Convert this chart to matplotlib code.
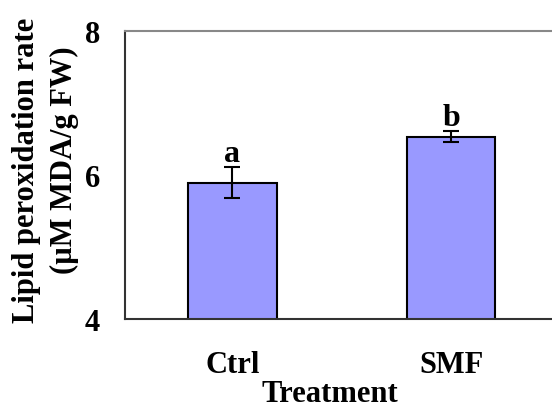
import matplotlib
matplotlib.use("Agg")
import matplotlib.pyplot as plt

categories = ["Ctrl", "SMF"]
values = [5.89, 6.53]
errors = [0.215, 0.075]
letters = ["a", "b"]
yticks = [4, 6, 8]

plt.rcParams['font.family'] = ['Liberation Serif', 'DejaVu Serif']
plt.rcParams['font.weight'] = 'bold'

fig = plt.figure(figsize=(5.52, 4.10), dpi=100)
ax = fig.add_axes([0.2264, 0.2195, 0.7736, 0.7032])

x = list(range(len(categories)))
ax.bar(x, values, width=0.404, color='#9999FF', edgecolor='black', linewidth=1.5, zorder=2)
ax.errorbar(x, values, yerr=errors, fmt='none', ecolor='black', elinewidth=1.5,
            capsize=6, capthick=1.5, zorder=3)
for xi, v, e, l in zip(x, values, errors, letters):
    ax.annotate(l, (xi, v + e), xytext=(0, 4.3), textcoords='offset points',
                ha='center', va='baseline', fontsize=23, fontweight='bold')

ax.set_xlim(-0.492, 1.462)
ax.set_ylim(4, 8)
ax.set_yticks(yticks)
ax.set_yticklabels([str(t) for t in yticks], fontsize=22, fontweight='bold')
ax.set_xticks(x)
ax.set_xticklabels(categories, fontsize=22, fontweight='bold')
ax.tick_params(axis='both', length=0)
ax.tick_params(axis='y', pad=18)
ax.tick_params(axis='x', pad=22.5)

ax.spines['right'].set_visible(False)
ax.spines['top'].set_color('#888888')
ax.spines['top'].set_linewidth(1.5)
ax.spines['left'].set_color('#333333')
ax.spines['left'].set_linewidth(1.5)
ax.spines['bottom'].set_color('#333333')
ax.spines['bottom'].set_linewidth(1.5)

fig.text(330/552, 1 - 402/410, "Treatment", ha='center', va='baseline', fontsize=22, fontweight='bold')
fig.text(27/552, 1 - 170/410, "Lipid peroxidation rate", ha='center', va='center',
         rotation=90, fontsize=22, fontweight='bold')
fig.text(64/552, 1 - 160/410, "(µM MDA/g FW)", ha='center', va='center',
         rotation=90, fontsize=22, fontweight='bold')

fig.savefig("out.png", dpi=100)
